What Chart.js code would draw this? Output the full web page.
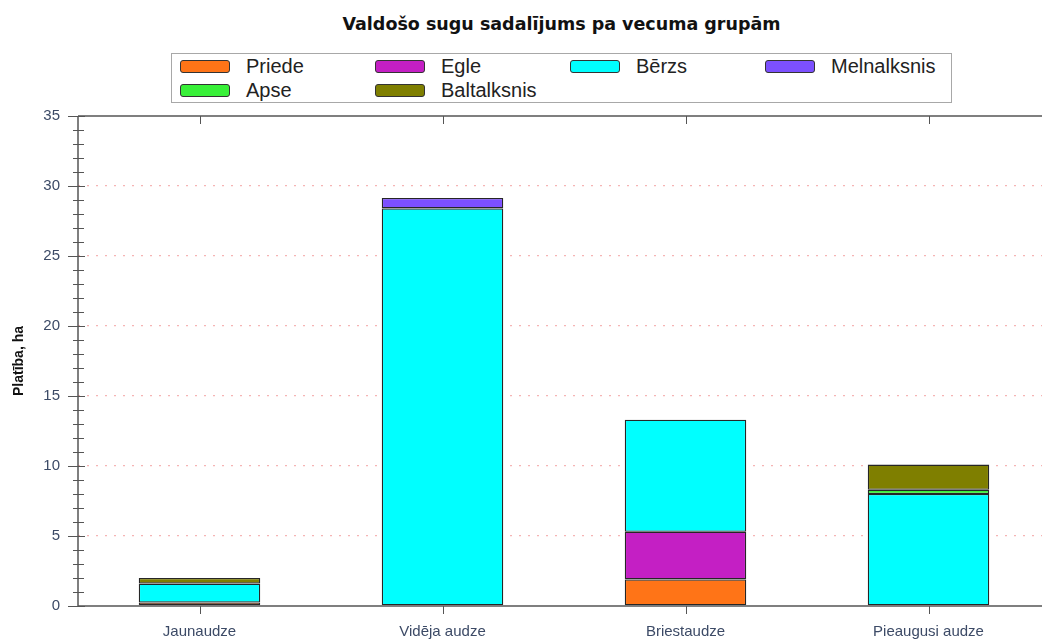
<!DOCTYPE html>
<html>
<head>
<meta charset="utf-8">
<script src="https://cdn.jsdelivr.net/npm/chart.js@4/dist/chart.umd.min.js"></script>
<style>
    html, body { margin: 0; padding: 0; background: #fff; overflow: hidden; width: 1042px; height: 642px; }
    #wrap { position: relative; width: 1060px; height: 642px; }
    #title {
        position: absolute; left: 0; top: 14px; width: 1123px; text-align: center;
        font: bold 17.5px "DejaVu Sans", Verdana, sans-serif; color: #111;
    }
    #legend {
        position: absolute; left: 171px; top: 53px; width: 781px; height: 50px;
        border: 1px solid #a8a8a8; box-sizing: border-box;
    }
    .item { position: absolute; height: 13px; }
    .sw {
        position: absolute; left: 0; top: 0; width: 50px; height: 13px; box-sizing: border-box;
        border: 1px solid #333; border-radius: 3px;
    }
    .lbl {
        position: absolute; left: 66px; top: -6px; white-space: nowrap;
        font: 20px "Liberation Sans", Arial, sans-serif; color: #222; line-height: 24px;
    }
    canvas { position: absolute; left: 0; top: 0; }
</style>
</head>
<body>
<div id="wrap">
    <div id="title">Valdošo sugu sadalījums pa vecuma grupām</div>
    <div id="legend"></div>
    <canvas id="chart" width="1060" height="642"></canvas>
</div>
<script>
// vecuma grupas
const groups = ['Jaunaudze', 'Vidēja audze', 'Briestaudze', 'Pieaugusi audze'];

// platība, ha (null = nav)
const priede      = [0.25, null, 1.9, null];
const egle        = [null, null, 3.4, null];
const berzs       = [1.35, 28.4, 8.0, 8.0];
const melnalksnis = [null, 0.75, null, null];
const apse        = [null, null, null, 0.3];
const baltalksnis = [0.4, null, null, 1.8];

const yTicks = [0, 5, 10, 15, 20, 25, 30, 35];

const series = [
    { label: 'Priede',      data: priede,      color: '#FF7417' },
    { label: 'Egle',        data: egle,        color: '#C41FC4' },
    { label: 'Bērzs',       data: berzs,       color: '#00FFFF' },
    { label: 'Melnalksnis', data: melnalksnis, color: '#7C50FF' },
    { label: 'Apse',        data: apse,        color: '#38F038' },
    { label: 'Baltalksnis', data: baltalksnis, color: '#7F7F00' }
];

/**
 * Leģenda (HTML), 4 kolonnas
 */
function buildLegend() {
    const box = document.getElementById('legend');
    series.forEach((s, i) => {
        const col = i % 4;
        const row = Math.floor(i / 4);
        const item = document.createElement('div');
        item.className = 'item';
        item.style.left = (8 + col * 195) + 'px';
        item.style.top = (6 + row * 24) + 'px';
        item.innerHTML = '<div class="sw" style="background:' + s.color + '"></div><div class="lbl">' + s.label + '</div>';
        box.appendChild(item);
    });
}

/**
 * Rāmis, galvenās un palīgiedaļas
 */
const framePlugin = {
    id: 'frame',
    afterDraw(chart) {
        const ctx = chart.ctx;
        const a = chart.chartArea;
        const y = chart.scales.y;
        const x = chart.scales.x;
        ctx.save();
        ctx.strokeStyle = '#555';
        ctx.lineWidth = 1.5;
        ctx.beginPath();
        ctx.moveTo(a.left, a.top); ctx.lineTo(a.left, a.bottom);
        ctx.moveTo(a.left, a.top); ctx.lineTo(a.right, a.top);
        ctx.moveTo(a.left, a.bottom); ctx.lineTo(a.right, a.bottom);
        ctx.stroke();

        ctx.lineWidth = 1;
        ctx.beginPath();
        for (let v = y.min; v <= y.max; v++) {
            const py = Math.round(y.getPixelForValue(v)) + 0.5;
            if (v % 5 === 0) {
                ctx.moveTo(a.left - 10, py); ctx.lineTo(a.left + 7, py);
            } else {
                ctx.moveTo(a.left - 5, py); ctx.lineTo(a.left + 6, py);
            }
        }
        groups.forEach((g, i) => {
            const px = Math.round(x.getPixelForValue(i)) + 0.5;
            ctx.moveTo(px, a.bottom); ctx.lineTo(px, a.bottom + 8);
            ctx.moveTo(px, a.top); ctx.lineTo(px, a.top + 8);
        });
        ctx.stroke();
        ctx.restore();
    }
};

function init() {
    buildLegend();

    new Chart(document.getElementById('chart'), {
        type: 'bar',
        data: {
            labels: groups,
            datasets: series.map(s => ({
                label: s.label,
                data: s.data,
                backgroundColor: s.color,
                borderColor: '#262626',
                borderWidth: 1.3,
                borderSkipped: false,
                categoryPercentage: 1.0,
                barPercentage: 0.5
            }))
        },
        options: {
            responsive: false,
            animation: false,
            layout: { padding: { top: 116, right: 10, left: 0, bottom: 0 } },
            plugins: {
                legend: { display: false },
                title: { display: false },
                tooltip: { enabled: false }
            },
            scales: {
                x: {
                    stacked: true,
                    grid: { display: false, drawTicks: false },
                    border: { display: false },
                    ticks: {
                        color: '#3c4a66',
                        font: { family: 'Liberation Sans', size: 15 },
                        padding: 17,
                        maxRotation: 0
                    },
                    afterFit(s) { s.height = 36; }
                },
                y: {
                    stacked: true,
                    min: 0,
                    max: 35,
                    afterBuildTicks(s) { s.ticks = yTicks.map(v => ({ value: v })); },
                    grid: {
                        drawTicks: false,
                        lineWidth: 1.3,
                        color: ctx => (ctx.tick && (ctx.tick.value === 0 || ctx.tick.value === 35)) ? 'rgba(0,0,0,0)' : '#f5b4b4'
                    },
                    border: { display: false, dash: [2, 7] },
                    ticks: {
                        color: '#3c4a66',
                        font: { family: 'Liberation Sans', size: 15 },
                        padding: 18
                    },
                    title: {
                        display: true,
                        text: 'Platība, ha',
                        color: '#111',
                        font: { family: 'Liberation Sans', size: 14, weight: 'bold' },
                        padding: { top: 11, bottom: 0 }
                    },
                    afterFit(s) { s.width = 78; }
                }
            }
        },
        plugins: [framePlugin]
    });
}

if (document.readyState === 'loading') {
    document.addEventListener('DOMContentLoaded', init);
} else {
    init();
}
</script>
</body>
</html>
